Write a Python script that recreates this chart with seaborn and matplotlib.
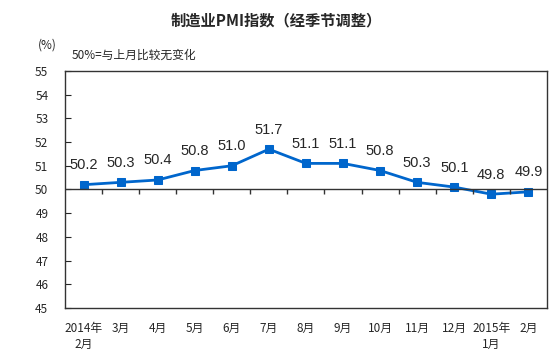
import seaborn as sns
import pandas as pd
from matplotlib import pyplot as plt

sns.set_style("white")
plt.rcParams['font.family'] = ['Noto Sans CJK SC', 'DejaVu Sans']

# data
months = ["2014年\n2月", "3月", "4月", "5月", "6月", "7月", "8月",
          "9月", "10月", "11月", "12月", "2015年\n1月", "2月"]
pmi = [50.2, 50.3, 50.4, 50.8, 51.0, 51.7, 51.1, 51.1, 50.8, 50.3, 50.1, 49.8, 49.9]
value_labels = ["50.2", "50.3", "50.4", "50.8", "51.0", "51.7", "51.1",
                "51.1", "50.8", "50.3", "50.1", "49.8", "49.9"]

df = pd.DataFrame({"idx": range(len(months)), "pmi": pmi})

fig = plt.figure(figsize=(5.53, 3.64), dpi=100)
ax = fig.add_axes([0.1175, 0.154, 0.8715, 0.651])

sns.lineplot(data=df, x="idx", y="pmi", ax=ax, color="#0066CC", linewidth=2,
             marker="s", markersize=6, markeredgecolor="#0066CC")

ax.set_xlim(-0.5, len(months) - 0.5)
ax.set_ylim(45, 55)
ax.set_yticks(range(45, 56))
ax.set_xticks(range(len(months)))
ax.set_xticklabels(months, fontsize=8.5, linespacing=1.3, va="top")
ax.tick_params(axis="x", length=0, pad=10)
ax.tick_params(axis="y", direction="in", length=4, left=True, labelsize=8.5, pad=12)
ax.set_xlabel("")
ax.set_ylabel("")

# reference line at 50 with small ticks between categories
ax.axhline(50, color="#333333", linewidth=1)
ax.vlines([i + 0.5 for i in range(len(months) - 1)], 49.82, 50,
          color="#333333", linewidth=1)

for sp in ax.spines.values():
    sp.set_visible(True)
    sp.set_color("#333333")
    sp.set_linewidth(1)

for i, (v, t) in enumerate(zip(pmi, value_labels)):
    ax.annotate(t, (i, v), xytext=(0, 9), textcoords="offset points",
                ha="center", va="bottom", fontsize=10.5, family="Liberation Sans")

fig.text(0.5, 0.945, "制造业PMI指数（经季节调整）", ha="center", va="center",
         fontsize=11, fontweight="bold")
fig.text(0.068, 0.875, "(%)", ha="left", va="center", fontsize=8.5)
fig.text(0.13, 0.848, "50%=与上月比较无变化", ha="left", va="center", fontsize=8.5)

plt.savefig("out.png", dpi=100)
